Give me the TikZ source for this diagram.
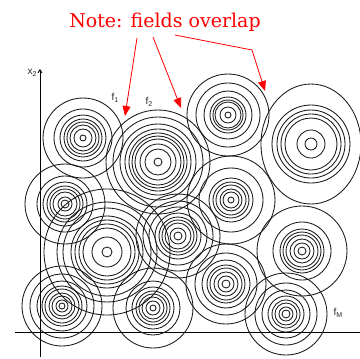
\documentclass[tikz,border=0pt]{standalone}
\usepackage{fontspec}
\newfontfamily\lblfont{Liberation Sans}
\newfontfamily\notefont{DejaVu Serif}
\usetikzlibrary{arrows.meta}
\newcommand{\lowsub}[1]{\raisebox{-0.35ex}{\fontsize{7bp}{7bp}\selectfont #1}}
\begin{document}
\begin{tikzpicture}[x=1bp,y=-1bp,
  ring/.style={draw=black!90,line width=0.85bp},
  axis/.style={draw=black,line width=0.9bp},
  lbl/.style={font=\lblfont\fontsize{10bp}{10bp}\selectfont,text=black!85,inner sep=0pt},
  notearrow/.style={draw=red,line width=0.8bp,-{Triangle[length=10bp,width=8bp]}}]
\useasboundingbox[fill=white] (0,0) rectangle (360,359);
% axes
\coordinate (ybot) at (40,357);
\coordinate (ytop) at (40,69);
\coordinate (xl) at (15,332);
\coordinate (xr) at (360,332);
\draw[axis,-{Straight Barb[length=3bp,width=4bp]}] (ybot) -- (ytop);
\draw[axis] (xl) -- (xr);
% cluster centres
\coordinate (c1) at (83,138);
\coordinate (c2) at (158,162);
\coordinate (c3) at (228,115);
\coordinate (c4) at (311,144);
\coordinate (c5) at (65,204);
\coordinate (c6) at (107,252);
\coordinate (c7) at (178,236);
\coordinate (c8) at (231,200);
\coordinate (c9) at (302,251);
\coordinate (c10) at (226,284);
\coordinate (c11) at (286,314);
\coordinate (c12) at (62,306);
\coordinate (c13) at (153,308);
\foreach \r in {3,9,13,16,19,23,29,40} \draw[ring] (c1) circle[radius=\r bp];
\foreach \r in {4,13,18,23,26,29,33,38,45,52} \draw[ring] (c2) circle[radius=\r bp];
\foreach \r in {3,8,13,15,18,24,32,41} \draw[ring] (c3) circle[radius=\r bp];
\foreach \r in {6,14,26,30,34,39} \draw[ring] (c4) circle[radius=\r bp];
\draw[ring] (c4) ellipse[x radius=50bp,y radius=60bp];
\foreach \r in {4,7,12,15,18,22,28,40} \draw[ring] (c5) circle[radius=\r bp];
\foreach \r in {5,15,24,28,32,36,44,50,63} \draw[ring] (c6) circle[radius=\r bp];
\foreach \r in {4,8,13,16,19,23,29,35,42} \draw[ring] (c7) circle[radius=\r bp];
\foreach \r in {3,8,11,15,18,22,32,44} \draw[ring] (c8) circle[radius=\r bp];
\foreach \r in {4,8,12,16,19,22,29,45} \draw[ring] (c9) circle[radius=\r bp];
\foreach \r in {4,8,12,16,19,24,31,40} \draw[ring] (c10) circle[radius=\r bp];
\foreach \r in {4,7,11,14,18,24,31,41} \draw[ring] (c11) circle[radius=\r bp];
\foreach \r in {3,6,10,13,17,20,25,32,40} \draw[ring] (c12) circle[radius=\r bp];
\foreach \r in {3,7,11,14,17,21,27,40} \draw[ring] (c13) circle[radius=\r bp];
% labels
\node[lbl] (lx2) at (32,73) {x\lowsub{2}};
\node[lbl] (lf1) at (115,98) {f\lowsub{1}};
\node[lbl] (lf2) at (149,102) {f\lowsub{2}};
\node[lbl] (lfm) at (338,313) {f\lowsub{M}};
% note
\node[font=\notefont\fontsize{19bp}{20bp}\selectfont,text=red,inner sep=0pt,anchor=base] (note) at (165,27) {Note: fields overlap};
\coordinate (s1) at (137,38);
\coordinate (t1) at (125,116);
\coordinate (s2) at (153,37);
\coordinate (t2) at (181,108);
\coordinate (s3) at (175,35);
\coordinate (k3) at (252,50);
\coordinate (t3) at (265,91);
\draw[notearrow] (s1) -- (t1);
\draw[notearrow] (s2) -- (t2);
\draw[notearrow] (s3) -- (k3) -- (t3);
\end{tikzpicture}
\end{document}
